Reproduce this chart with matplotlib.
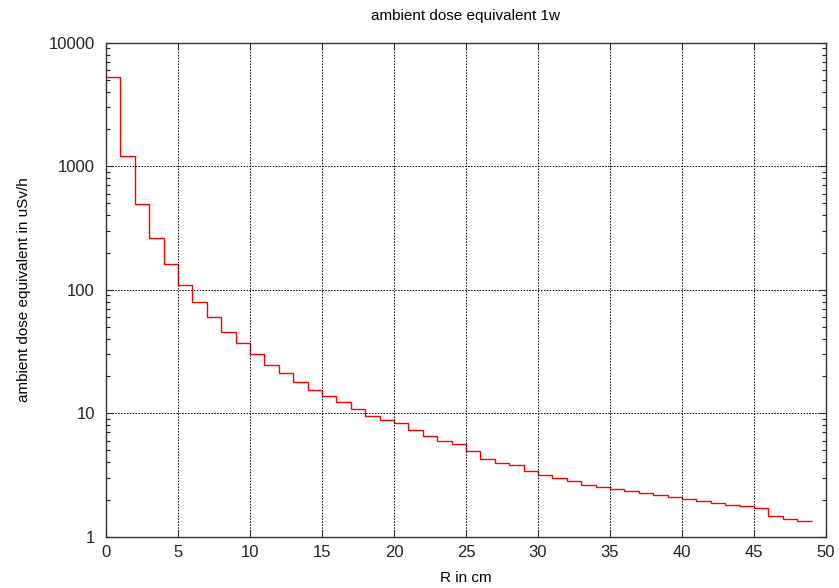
import numpy as np
import matplotlib
matplotlib.use("Agg")
import matplotlib.pyplot as plt
from matplotlib.ticker import LogLocator, FixedLocator, NullFormatter

plt.rcParams['font.family'] = ['Liberation Sans', 'DejaVu Sans']

# bin edges (cm) and dose per bin (uSv/h)
r_edges = list(range(0, 50))
dose = [5310, 1208, 493, 261, 160, 110, 80, 60, 45.1, 37.0,
        30.1, 24.7, 21.1, 17.8, 15.3, 13.9, 12.3, 10.8, 9.5, 8.83,
        8.35, 7.38, 6.55, 5.97, 5.61, 4.92, 4.26, 3.93, 3.79, 3.43,
        3.18, 2.99, 2.81, 2.61, 2.54, 2.45, 2.36, 2.26, 2.18, 2.08,
        2.01, 1.93, 1.86, 1.81, 1.76, 1.70, 1.48, 1.39, 1.33]

x_ticks = [0, 5, 10, 15, 20, 25, 30, 35, 40, 45, 50]

fig = plt.figure(figsize=(8.39, 5.88), dpi=100)
ax = fig.add_axes([0.1263, 0.0872, 0.8582, 0.8402])

ax.stairs(dose, r_edges, color='red', lw=1.0, baseline=None)

ax.set_yscale('log')
ax.set_xlim(0, 50)
ax.set_ylim(1, 10000)
ax.xaxis.set_major_locator(FixedLocator(x_ticks))
ax.yaxis.set_minor_locator(LogLocator(base=10, subs=np.arange(2, 10)))
ax.yaxis.set_minor_formatter(NullFormatter())
ax.set_yticks([1, 10, 100, 1000, 10000])
ax.set_yticklabels(['1', '10', '100', '1000', '10000'])

ax.tick_params(which='both', direction='in', top=True, right=True,
               labelsize=12, colors='#222222')
ax.tick_params(which='major', length=5, width=0.8)
ax.tick_params(which='minor', length=3, width=0.8)
ax.tick_params(axis='x', which='major', pad=6)
ax.tick_params(axis='y', which='major', pad=8)
ax.grid(True, which='major', color='black', ls=(0, (1.5, 1.5)), lw=0.7)

for s in ax.spines.values():
    s.set_linewidth(1.0)
    s.set_color('#333333')

ax.set_title('ambient dose equivalent 1w', fontsize=11, pad=16)
ax.set_xlabel('R in cm', fontsize=11, labelpad=8)
ax.set_ylabel('ambient dose equivalent in uSv/h', fontsize=11, labelpad=13)

fig.savefig('out.png', dpi=100)
